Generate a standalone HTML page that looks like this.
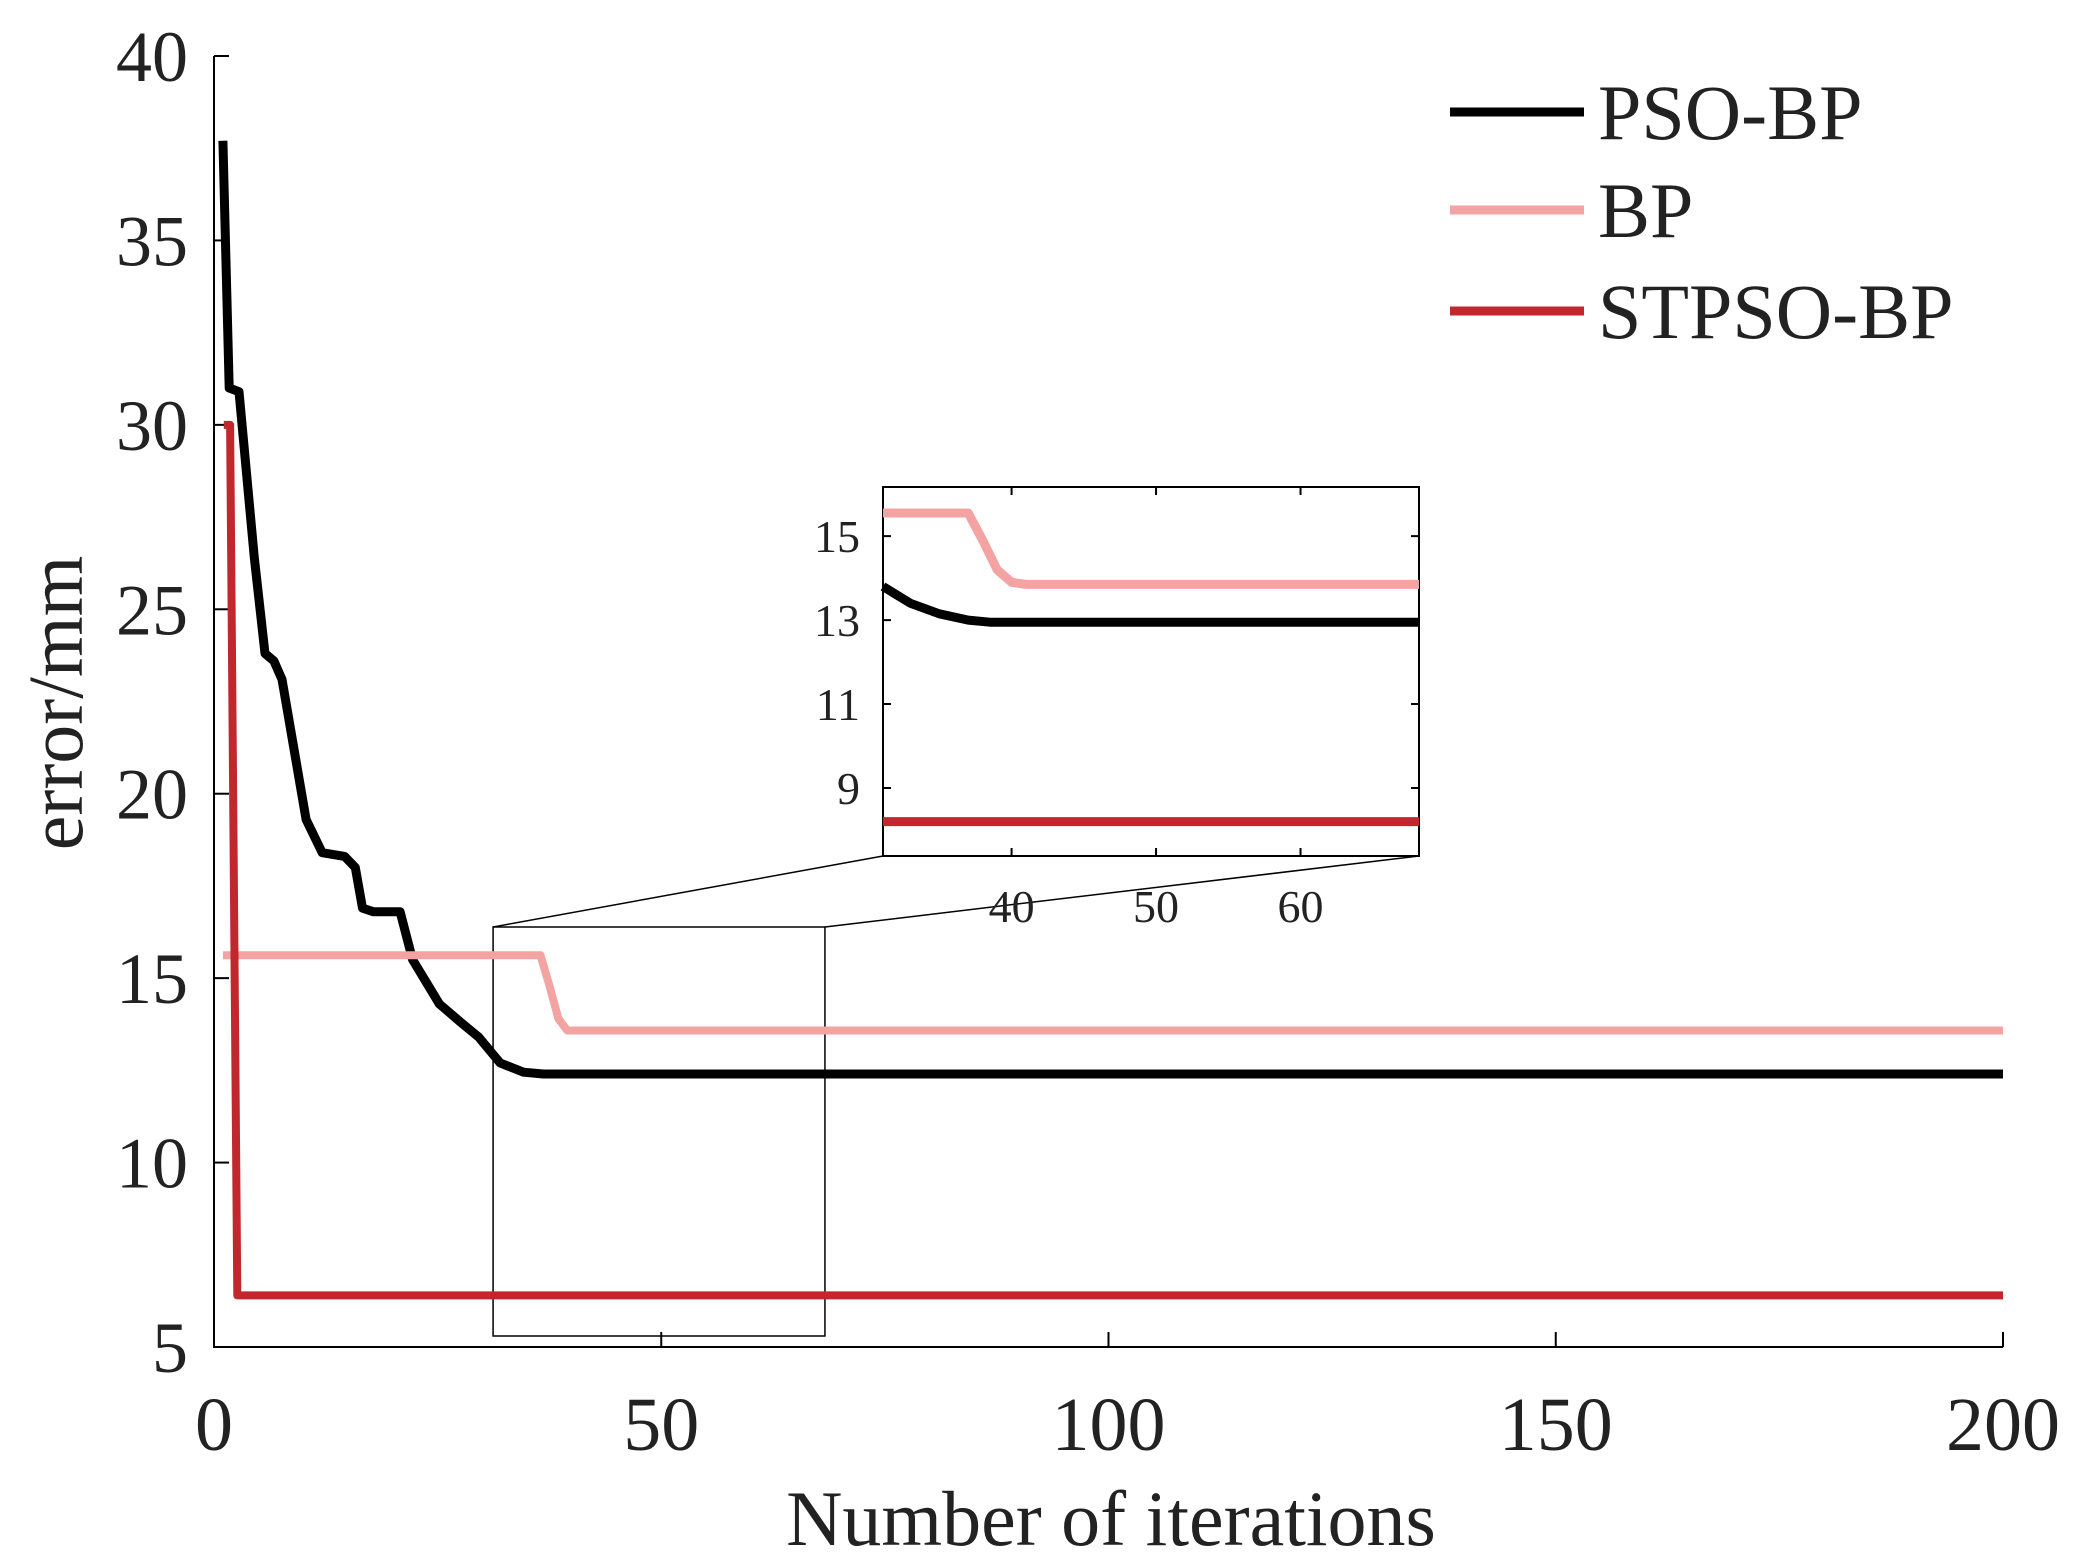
<!DOCTYPE html>
<html><head><meta charset="utf-8"><style>
html,body{margin:0;padding:0;background:#fff;}
svg{display:block;font-family:"Liberation Serif",serif;}
</style></head><body>
<svg id="chart" width="2089" height="1563" viewBox="0 0 2089 1563"></svg>
<script>
const psoX=[1,1.7,2.8,4.5,5.7,6.7,7.6,10.3,12.1,14.6,15.8,16.6,17.8,20.8,22.2,25.2,27.6,29.6,32,34.6,36.8,200];
const psoY=[37.7,31.0,30.9,26.4,23.8,23.6,23.1,19.3,18.4,18.3,18.0,16.9,16.8,16.8,15.5,14.3,13.8,13.4,12.7,12.45,12.4,12.4];
const bpX=[1,36.5,37.5,38.5,39.5,200];
const bpY=[15.62,15.62,14.8,13.9,13.58,13.58];
const stX=[1.1,1.8,2.6,200];
const stY=[30,30,6.4,6.4];
const xTicks=[0,50,100,150,200];
const yTicks=[5,10,15,20,25,30,35,40];
// inset data
const inPsoX=[31.1,33,35,37,38.5,68.2];
const inPsoY=[13.8,13.4,13.15,13.0,12.95,12.95];
const inBpX=[31.1,37,38,39,40,41,68.2];
const inBpY=[15.55,15.55,14.9,14.2,13.9,13.85,13.85];
const inStX=[31.1,68.2];
const inStY=[8.2,8.2];
const inXTicks=[40,50,60];
const inYTicks=[9,11,13,15];
const legendNames=["PSO-BP","BP","STPSO-BP"];
const colors=["#000000","#f4a3a3","#c0282d"];

const NS="http://www.w3.org/2000/svg";
const svg=document.getElementById('chart');
function el(tag,attrs,parent){const e=document.createElementNS(NS,tag);for(const k in attrs)e.setAttribute(k,attrs[k]);(parent||svg).appendChild(e);return e;}
const X0=214,X1=2003,Y0=1347,Y1=56;
const sx=v=>X0+(v-0)/200*(X1-X0);
const sy=v=>Y0-(v-5)/35*(Y0-Y1);
const IX0=883,IX1=1419,IY0=856,IY1=487;
const isx=v=>IX0+(v-31.1)/(68.2-31.1)*(IX1-IX0);
const isy=v=>IY0-(v-7.38)/(16.17-7.38)*(IY0-IY1);
function pts(xs,ys,fx,fy){return xs.map((x,i)=>fx(x).toFixed(1)+','+fy(ys[i]).toFixed(1)).join(' ');}

let a=el('path',{d:`M${X0},${Y1}V${Y0}H${X1}`,stroke:'#000',fill:'none','stroke-width':2});


xTicks.forEach(t=>{
 let l=el('line',{x1:sx(t),x2:sx(t),y1:Y0,y2:Y0-15,stroke:'#000','stroke-width':2});
 
 
 let tx=el('text',{x:sx(t),y:1450,'text-anchor':'middle','font-size':76,fill:'#222'});
 tx.textContent=t;
 
 
});
yTicks.forEach(t=>{
 let l=el('line',{x1:X0,x2:X0+15,y1:sy(t),y2:sy(t),stroke:'#000','stroke-width':2});
 
 
 let tx=el('text',{x:188,y:sy(t)+25,'text-anchor':'end','font-size':72,fill:'#222'});
 tx.textContent=t;
 
 
});
let xt=el('text',{x:1111,y:1545,'text-anchor':'middle','font-size':78,fill:'#222'});
xt.textContent='Number of iterations';


let yt=el('text',{x:0,y:0,'text-anchor':'middle','font-size':78,fill:'#222',transform:'translate(82,703) rotate(-90)'});
yt.textContent='error/mm';



const rx0=sx(31.2),rx1=sx(68.3),ry0=927,ry1=1336;
let zr=el('rect',{x:rx0,y:ry0,width:rx1-rx0,height:ry1-ry0,fill:'none',stroke:'#000','stroke-width':1.5});


let c1=el('line',{x1:rx0,y1:ry0,x2:IX0,y2:IY0,stroke:'#000','stroke-width':1.5});


let c2=el('line',{x1:rx1,y1:ry0,x2:IX1,y2:IY0,stroke:'#000','stroke-width':1.5});



[[psoX,psoY,0,'pso-bp-line',9],[bpX,bpY,1,'bp-line',8],[stX,stY,2,'stpso-bp-line',8]].forEach(s=>{
 let p=el('polyline',{points:pts(s[0],s[1],sx,sy),fill:'none',stroke:colors[s[2]],'stroke-width':s[4],'stroke-linejoin':'round'});
 
 
});

let ib=el('rect',{x:IX0,y:IY1,width:IX1-IX0,height:IY0-IY1,fill:'#fff',stroke:'#000','stroke-width':2});


inXTicks.forEach(t=>{
 let l=el('path',{d:`M${isx(t)},${IY0}v-8M${isx(t)},${IY1}v8`,stroke:'#000','stroke-width':2});
 
 
 let tx=el('text',{x:isx(t),y:922,'text-anchor':'middle','font-size':46,fill:'#222'});
 tx.textContent=t;
 
 
});
inYTicks.forEach(t=>{
 let l=el('path',{d:`M${IX0},${isy(t)}h8M${IX1},${isy(t)}h-8`,stroke:'#000','stroke-width':2});
 
 
 let tx=el('text',{x:860,y:isy(t)+16,'text-anchor':'end','font-size':46,fill:'#222'});
 tx.textContent=t;
 
 
});
[[inBpX,inBpY,1,'inset-bp-line'],[inPsoX,inPsoY,0,'inset-pso-bp-line'],[inStX,inStY,2,'inset-stpso-bp-line']].forEach(s=>{
 let p=el('polyline',{points:pts(s[0],s[1],isx,isy),fill:'none',stroke:colors[s[2]],'stroke-width':9,'stroke-linejoin':'round'});
 
 
});

const ly=[112,210,311];
legendNames.forEach((n,i)=>{
 let g=el('g',{});
 
 
 el('line',{x1:1450,x2:1584,y1:ly[i],y2:ly[i],stroke:colors[i],'stroke-width':9},g);
 let t=el('text',{x:1598,y:ly[i]+27,'font-size':78,fill:'#222'},g);
 t.textContent=n;
});
</script>
</body></html>
